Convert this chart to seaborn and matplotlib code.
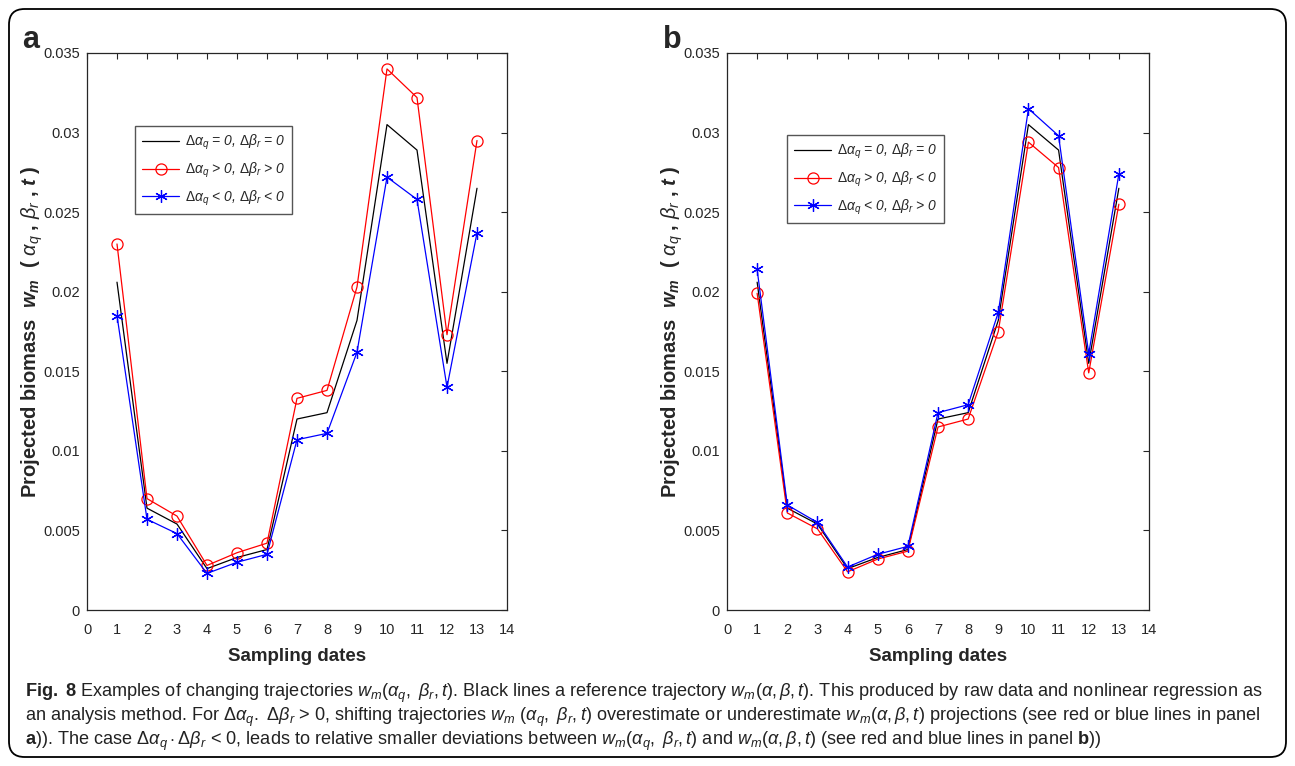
import matplotlib
matplotlib.use("Agg")
import matplotlib.pyplot as plt
import seaborn as sns
import numpy as np
import pandas as pd
from matplotlib.patches import FancyBboxPatch

# ---------------- data ----------------
dates = list(range(1, 14))
ref = [0.0206, 0.0064, 0.0054, 0.0026, 0.0033, 0.0038, 0.0120, 0.0124, 0.0182, 0.0305, 0.0289, 0.0155, 0.0265]
a_red = [0.0230, 0.0070, 0.0059, 0.0028, 0.0036, 0.0042, 0.0133, 0.0138, 0.0203, 0.0340, 0.0322, 0.0173, 0.0295]
a_blue = [0.0185, 0.0057, 0.0048, 0.0023, 0.0030, 0.0035, 0.0107, 0.0111, 0.0162, 0.0272, 0.0258, 0.0140, 0.0237]
b_red = [0.0199, 0.0061, 0.0051, 0.0024, 0.0032, 0.0037, 0.0115, 0.0120, 0.0175, 0.0294, 0.0278, 0.0149, 0.0255]
b_blue = [0.0214, 0.0066, 0.0055, 0.0027, 0.0035, 0.0040, 0.0124, 0.0129, 0.0187, 0.0315, 0.0298, 0.0161, 0.0274]

xticks = list(range(0, 15))
yticks = [0, 0.005, 0.01, 0.015, 0.02, 0.025, 0.03, 0.035]
ytick_labels = ["0", "0.005", "0.01", "0.015", "0.02", "0.025", "0.03", "0.035"]

leg_a = [r"$\Delta\alpha_q$ = 0, $\Delta\beta_r$ = 0",
         r"$\Delta\alpha_q$ > 0, $\Delta\beta_r$ > 0",
         r"$\Delta\alpha_q$ < 0, $\Delta\beta_r$ < 0"]
leg_b = [r"$\Delta\alpha_q$ = 0, $\Delta\beta_r$ = 0",
         r"$\Delta\alpha_q$ > 0, $\Delta\beta_r$ < 0",
         r"$\Delta\alpha_q$ < 0, $\Delta\beta_r$ > 0"]

# ---------------- style ----------------
sns.set_style("white")
plt.rcParams['font.family'] = ['Liberation Sans', 'DejaVu Sans']
plt.rcParams['mathtext.fontset'] = 'custom'
plt.rcParams['mathtext.rm'] = 'Liberation Sans'
plt.rcParams['mathtext.it'] = 'Liberation Sans:italic'
plt.rcParams['mathtext.bf'] = 'Liberation Sans:bold'
plt.rcParams['mathtext.bfit'] = 'Liberation Sans:bold:italic'

AX_COL = '#262626'

fig = plt.figure(figsize=(12.95, 7.66), dpi=100)
W, H = 1295, 766

def fx(px):
    return px / W

def fy(py):
    return 1 - py / H

# outer rounded border
border = FancyBboxPatch((fx(9), fy(757)), fx(1286) - fx(9), fy(9) - fy(757),
                        boxstyle="round,pad=0,rounding_size=0.012",
                        transform=fig.transFigure, fill=False, ec='black', lw=1.3,
                        mutation_aspect=W / H)
fig.patches.append(border)

ax_a = fig.add_axes([fx(87), fy(610), fx(507) - fx(87), fy(53) - fy(610)])
ax_b = fig.add_axes([fx(727), fy(610), fx(1149) - fx(727), fy(53) - fy(610)])


def draw(ax, red, blue, labels, leg_x, leg_top, ylab_x):
    sns.lineplot(x=dates, y=ref, ax=ax, color='black', lw=0.9, label=labels[0])
    sns.lineplot(x=dates, y=red, ax=ax, color='red', lw=0.9, marker='o', markersize=8,
                 markerfacecolor='none', markeredgecolor='red', markeredgewidth=0.9,
                 label=labels[1])
    sns.lineplot(x=dates, y=blue, ax=ax, color='blue', lw=0.9, marker=(6, 2, 0), markersize=9,
                 markeredgecolor='blue', markeredgewidth=0.9, label=labels[2])
    ax.set_xlim(0, 14)
    ax.set_ylim(0, 0.035)
    ax.set_xticks(xticks)
    ax.set_yticks(yticks)
    ax.set_yticklabels(ytick_labels)
    ax.tick_params(direction='in', length=4, width=0.8, colors=AX_COL, labelsize=10.5,
                   top=True, right=True, labelcolor=AX_COL)
    ax.tick_params(axis='x', pad=9)
    ax.tick_params(axis='y', pad=5)
    for s in ax.spines.values():
        s.set_color(AX_COL)
        s.set_linewidth(0.9)
        s.set_visible(True)
    ax.set_xlabel("Sampling dates", fontsize=13.5, fontweight='bold', color=AX_COL, labelpad=8)
    ax.set_ylabel(r"Projected biomass  $\mathbfit{w_m}$  ( $\alpha_q$ , $\beta_r$ , $\mathbfit{t}$ )",
                  fontsize=14.5, fontweight='bold', color=AX_COL)
    ax.yaxis.set_label_coords(ylab_x, 0.5)
    leg = ax.legend(loc='upper left', bbox_to_anchor=(leg_x, leg_top), fontsize=10,
                    frameon=True, fancybox=False, framealpha=1, edgecolor='#555555',
                    handlelength=2.7, borderpad=0.5, labelspacing=0.6,
                    handletextpad=0.4, borderaxespad=0)
    leg.get_frame().set_linewidth(1.0)
    for t in leg.get_texts():
        t.set_fontstyle('italic')
        t.set_color(AX_COL)


draw(ax_a, a_red, a_blue, leg_a, (135 - 87) / 420, (610 - 126) / 557, (45 - 87) / 420)
draw(ax_b, b_red, b_blue, leg_b, (787 - 727) / 422, (610 - 135) / 557, (685 - 727) / 422)

fig.text(fx(22), fy(48), "a", fontsize=22, fontweight='bold', ha='left', va='baseline')
fig.text(fx(663), fy(48), "b", fontsize=22, fontweight='bold', ha='left', va='baseline')

cap1 = (r"$\mathbf{Fig.\ 8}$ Examples of changing trajectories $w_m(\alpha_q,\ \beta_r,t)$. "
        r"Black lines a reference trajectory $w_m(\alpha,\beta,t)$. This produced by raw data and nonlinear regression as")
cap2 = (r"an analysis method. For $\Delta\alpha_q.\ \Delta\beta_r$ > 0, shifting trajectories $w_m\ (\alpha_q,\ \beta_r,t)$ "
        r"overestimate or underestimate $w_m(\alpha,\beta,t)$ projections (see red or blue lines in panel")
cap3 = (r"$\mathbf{a}$)). The case $\Delta\alpha_q\cdot\Delta\beta_r$ < 0, leads to relative smaller deviations between "
        r"$w_m(\alpha_q,\ \beta_r,t)$ and $w_m(\alpha,\beta,t)$ (see red and blue lines in panel $\mathbf{b}$))")

for txt, yb in [(cap1, 697), (cap2, 721), (cap3, 745)]:
    fig.text(fx(25), fy(yb), txt, fontsize=13.1, ha='left', va='baseline', color='#222222')

fig.savefig("out.png", dpi=100)
